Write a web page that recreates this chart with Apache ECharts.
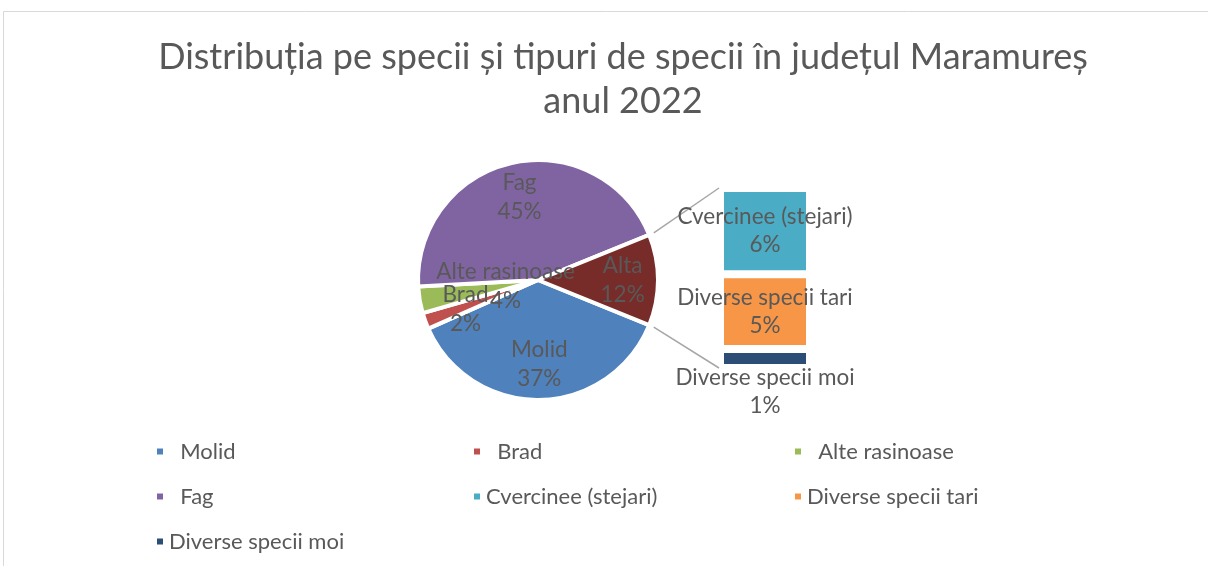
<!DOCTYPE html>
<html>
<head>
<meta charset="utf-8">
<script src="https://cdn.jsdelivr.net/npm/echarts@6/dist/echarts.min.js"></script>
<style>
  html, body { margin: 0; padding: 0; background: #fff; }
  #main { width: 1208px; height: 566px; }
</style>
</head>
<body>
<div id="main"></div>
<script>
// date grafic
const titleText = 'Distribuția pe specii și tipuri de specii în județul Maramureș\nanul 2022';
const pieNames = ['Molid', 'Brad', 'Alte rasinoase', 'Fag'];
const pieValues = [37.2, 2.2, 3.6, 44.7];
const otherName = 'Alta';
const barNames = ['Cvercinee (stejari)', 'Diverse specii tari', 'Diverse specii moi'];
const barValues = [5.9, 5.1, 1.3];

// culori (tema Office)
const pieColors = ['#4F81BD', '#C0504D', '#9BBB59', '#8064A2'];
const otherColor = '#772C2A';
const barColors = ['#4BACC6', '#F79646', '#2C4D75'];

const FONT = 'Lato';
const TXT = '#595959';

// asezare
const cx = 538, cy = 280, r = 120;
const barLeft = 720, barTop = 188, barW = 90, barH = 180;

const otherTotal = barValues.reduce((a, b) => a + b, 0);
const half = otherTotal / 100 * 180;

let pieData = pieNames.map((n, i) => ({ name: n, value: pieValues[i], itemStyle: { color: pieColors[i] } }));
pieData.push({ name: otherName, value: otherTotal, itemStyle: { color: otherColor } });

// linii de legatura dintre felia "Alta" si coloana
function connectors() {
  let a = half * Math.PI / 180;
  let rr = r + 5;
  let p1 = [cx + rr * Math.cos(a), cy - rr * Math.sin(a)];
  let p2 = [cx + rr * Math.cos(a), cy + rr * Math.sin(a)];
  let style = { stroke: '#a6a6a6', lineWidth: 1.5 };
  return [
    { type: 'line', shape: { x1: p1[0], y1: p1[1], x2: barLeft - 1, y2: barTop }, style: style, silent: true },
    { type: 'line', shape: { x1: p2[0], y1: p2[1], x2: barLeft - 1, y2: barTop + barH }, style: style, silent: true }
  ];
}

// serii coloana (de jos in sus)
let barSeries = [];
for (let i = barNames.length - 1; i >= 0; i--) {
  barSeries.push({
    type: 'bar',
    name: barNames[i],
    stack: 'alta',
    barWidth: '100%',
    data: [barValues[i]],
    itemStyle: { color: barColors[i], borderColor: '#fff', borderWidth: 4 },
    label: {
      show: true,
      position: i === barNames.length - 1 ? 'bottom' : 'inside',
      distance: -4,
      fontFamily: FONT, fontSize: 22.5, lineHeight: 28, color: TXT,
      formatter: p => p.seriesName + '\n' + Math.round(p.value) + '%'
    },
    emphasis: { disabled: true },
    silent: true
  });
}

const padNames = { 'Molid': '  ', 'Brad': '  ', 'Alte rasinoase': '  ', 'Fag': '  ' };
function legendCol(left, names) {
  return {
    orient: 'vertical',
    left: left,
    top: 434,
    itemWidth: 8,
    itemHeight: 8,
    itemGap: 20,
    icon: 'rect',
    selectedMode: false,
    data: names,
    formatter: n => (padNames[n] || '') + n,
    textStyle: { fontFamily: FONT, fontSize: 22, lineHeight: 25, color: TXT, padding: [0, 0, 0, 0] }
  };
}

let option = {
  animation: false,
  title: {
    text: titleText,
    left: 618,
    top: 30,
    textAlign: 'center',
    textStyle: { fontFamily: FONT, fontSize: 36, lineHeight: 44, fontWeight: 'normal', color: TXT }
  },
  legend: [
    legendCol(150, ['Molid', 'Fag', 'Diverse specii moi']),
    legendCol(467, ['Brad', 'Cvercinee (stejari)']),
    legendCol(788, ['Alte rasinoase', 'Diverse specii tari'])
  ],
  grid: { left: barLeft, top: barTop, width: barW, height: barH },
  xAxis: { type: 'category', data: ['alta'], show: false },
  yAxis: { type: 'value', min: 0, max: otherTotal, show: false },
  graphic: [
    { type: 'rect', shape: { x: 3.5, y: 11.5, width: 1220, height: 570 }, style: { fill: 'none', stroke: '#d9d9d9', lineWidth: 1 }, silent: true }
  ].concat(connectors()),
  series: [
    {
      type: 'pie',
      center: [cx, cy],
      radius: r,
      startAngle: -half,
      clockwise: true,
      data: pieData,
      itemStyle: { borderColor: '#fff', borderWidth: 4 },
      label: { show: false },
      labelLine: { show: false },
      emphasis: { disabled: true },
      silent: true
    },
    {
      // doar pentru etichete, la ~2/3 din raza
      type: 'pie',
      center: [cx, cy],
      radius: [r * 0.36, r],
      startAngle: -half,
      clockwise: true,
      data: pieData.map(d => ({ name: d.name, value: d.value })),
      itemStyle: { color: 'rgba(0,0,0,0)' },
      label: {
        show: true,
        position: 'inside',
        fontFamily: FONT, fontSize: 22.5, lineHeight: 29, color: TXT,
        formatter: p => p.name + '\n' + Math.round(p.value) + '%'
      },
      labelLayout: function (params) {
        if (params.dataIndex === 2) {
          return { dx: 51, dy: -8 };
        }
        if (params.dataIndex === 1) {
          return { dx: 7 };
        }
      },
      labelLine: { show: false },
      emphasis: { disabled: true },
      silent: true
    }
  ].concat(barSeries)
};

let myChart = echarts.init(document.getElementById('main'));
myChart.setOption(option);
</script>
</body>
</html>
